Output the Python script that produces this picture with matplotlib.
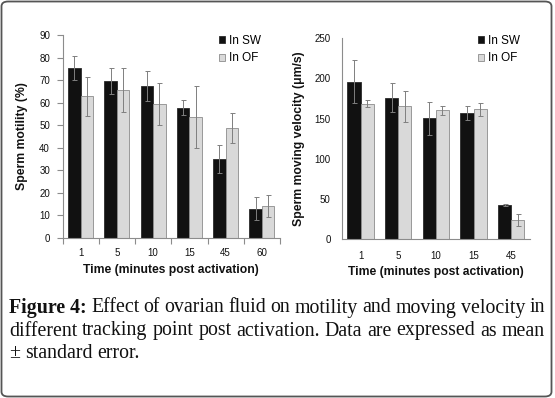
import numpy as np
import matplotlib
matplotlib.use("Agg")
import matplotlib.pyplot as plt
from matplotlib.patches import Patch, FancyBboxPatch

# ---------------- data ----------------
times_motility = ['1', '5', '10', '15', '45', '60']
motility_sw = [75.5, 69.5, 67.5, 57.8, 35.0, 13.0]
motility_sw_err = [5.3, 5.7, 6.6, 3.4, 6.4, 5.2]
motility_of = [62.8, 65.5, 59.3, 53.5, 48.7, 14.0]
motility_of_err = [8.8, 9.7, 9.3, 13.7, 6.6, 4.9]

times_velocity = ['1', '5', '10', '15', '45']
velocity_sw = [196.0, 175.7, 150.3, 157.0, 42.8]
velocity_sw_err = [26.8, 18.0, 20.7, 8.7, 1.3]
velocity_of = [168.6, 165.3, 160.3, 161.5, 23.3]
velocity_of_err = [4.4, 19.5, 5.4, 7.7, 7.5]

series_labels = ['In SW', 'In OF']
xlabel = 'Time (minutes post activation)'
ylabel_left = 'Sperm motility (%)'
ylabel_right = 'Sperm moving velocity (\u03bcm/s)'
caption_bold = 'Figure 4:'
caption_lines = [
    'Effect of ovarian fluid on motility and moving velocity in',
    'different tracking point post activation. Data are expressed as mean',
    '\u00b1 standard error.',
]

# ---------------- style ----------------
W, H = 555, 398
DPI = 100
plt.rcParams['font.family'] = ['Liberation Sans', 'DejaVu Sans']
SW_FACE, SW_EDGE = '#111111', '#2a2a2a'
OF_FACE, OF_EDGE = '#d9d9d9', '#8c8c8c'
AX_COL = '#8c8c8c'
ERR_COL = '#7f7f7f'
TXT = '#111111'
TICK_FS = 7.0

fig = plt.figure(figsize=(W / DPI, H / DPI), dpi=DPI)


def fx(px):
    return px / W


def fy(py):
    return 1 - py / H


def make_axes(x0, x1, ytop, ybot):
    return fig.add_axes([fx(x0), fy(ybot), fx(x1) - fx(x0), fy(ytop) - fy(ybot)])


def draw_panel(ax, cats, sw, swe, of, ofe, width):
    x = np.arange(len(cats))
    ekw = dict(ecolor=ERR_COL, elinewidth=0.7, capsize=1.8, capthick=0.7)
    ax.bar(x - width / 2, sw, width, yerr=swe, color=SW_FACE, edgecolor=SW_EDGE,
           linewidth=0.6, error_kw=ekw, label=series_labels[0], zorder=2)
    ax.bar(x + width / 2, of, width, yerr=ofe, color=OF_FACE, edgecolor=OF_EDGE,
           linewidth=0.6, error_kw=ekw, label=series_labels[1], zorder=2)
    ax.set_xlim(-0.5, len(cats) - 0.5)
    ax.set_xticks(x)
    ax.set_xticklabels(cats)
    for s in ['top', 'right']:
        ax.spines[s].set_visible(False)
    for s in ['left', 'bottom']:
        ax.spines[s].set_color(AX_COL)
        ax.spines[s].set_linewidth(0.8)
    ax.set_xlabel(xlabel, fontsize=8.7, fontweight='bold', color=TXT, labelpad=4)
    handles = [Patch(facecolor=SW_FACE, edgecolor=SW_EDGE, linewidth=0.6),
               Patch(facecolor=OF_FACE, edgecolor=OF_EDGE, linewidth=0.6)]
    return handles


# ---------- left panel ----------
axL = make_axes(62.5, 280, 35, 238)
hL = draw_panel(axL, times_motility, motility_sw, motility_sw_err,
                motility_of, motility_of_err, 0.345)
axL.set_ylim(0, 90)
axL.set_yticks(np.arange(0, 91, 10))
axL.tick_params(axis='y', length=4, width=0.8, color=AX_COL, labelsize=TICK_FS,
                labelcolor=TXT, pad=5)
axL.set_xticks(np.arange(-0.5, len(times_motility)), minor=True)
axL.tick_params(axis='x', which='major', length=0, labelsize=TICK_FS, labelcolor=TXT, pad=7.5)
axL.tick_params(axis='x', which='minor', length=4, width=0.8, color=AX_COL)
axL.set_ylabel(ylabel_left, fontsize=8.8, fontweight='bold', color=TXT, labelpad=8)
axL.legend(hL, series_labels, loc='upper left', bbox_to_anchor=(fx(219), fy(35)),
           bbox_transform=fig.transFigure, frameon=False, fontsize=8.5,
           handlelength=0.55, handleheight=0.55, handletextpad=0.3,
           labelspacing=0.45, borderpad=0, borderaxespad=0)

# ---------- right panel ----------
axR = make_axes(341.7, 530, 38.3, 239)
hR = draw_panel(axR, times_velocity, velocity_sw, velocity_sw_err,
                velocity_of, velocity_of_err, 0.353)
axR.set_ylim(0, 250)
axR.set_yticks(np.arange(0, 251, 50))
axR.tick_params(axis='y', length=0, labelsize=TICK_FS, labelcolor=TXT, pad=8)
axR.tick_params(axis='x', length=0, labelsize=TICK_FS, labelcolor=TXT, pad=8.5)
axR.set_ylabel(ylabel_right, fontsize=8.8, fontweight='bold', color=TXT, labelpad=7)
axR.legend(hR, series_labels, loc='upper left', bbox_to_anchor=(fx(478), fy(35)),
           bbox_transform=fig.transFigure, frameon=False, fontsize=8.5,
           handlelength=0.55, handleheight=0.55, handletextpad=0.3,
           labelspacing=0.45, borderpad=0, borderaxespad=0)

# ---------- caption (justified) ----------
CAP_FS = 14.3
serif = ['Liberation Serif', 'DejaVu Serif']
renderer = fig.canvas.get_renderer()
x_left, x_right = 9, 545
baselines = [312.5, 335.5, 358.0]


def words_of(line_idx):
    ws = [(w, 'normal') for w in caption_lines[line_idx].split(' ')]
    if line_idx == 0:
        ws = [(caption_bold, 'bold')] + ws
    return ws


probe1 = fig.text(0, 0, 'a b', fontsize=CAP_FS, family=serif)
probe2 = fig.text(0, 0, 'ab', fontsize=CAP_FS, family=serif)
space_nat = probe1.get_window_extent(renderer).width - probe2.get_window_extent(renderer).width
probe1.remove()
probe2.remove()

for i, base in enumerate(baselines):
    ws = words_of(i)
    texts = []
    for w, wt in ws:
        t = fig.text(0, fy(base), w, fontsize=CAP_FS, family=serif, fontweight=wt,
                     color=TXT, va='baseline', ha='left')
        texts.append(t)
    widths = [t.get_window_extent(renderer).width for t in texts]
    if i < 2:
        gap = (x_right - x_left - sum(widths)) / (len(ws) - 1)
    else:
        gap = space_nat
    xcur = x_left
    for t, wdt in zip(texts, widths):
        t.set_x(fx(xcur))
        xcur += wdt + gap

# ---------- rounded border ----------
border = FancyBboxPatch((fx(1.5), fy(396.5)), fx(551.5) - fx(1.5), fy(1.5) - fy(396.5),
                        boxstyle='round,pad=0,rounding_size=0.012',
                        transform=fig.transFigure, fill=False,
                        edgecolor='#555555', linewidth=1.3)
fig.patches.append(border)

fig.savefig('out.png', dpi=DPI)
